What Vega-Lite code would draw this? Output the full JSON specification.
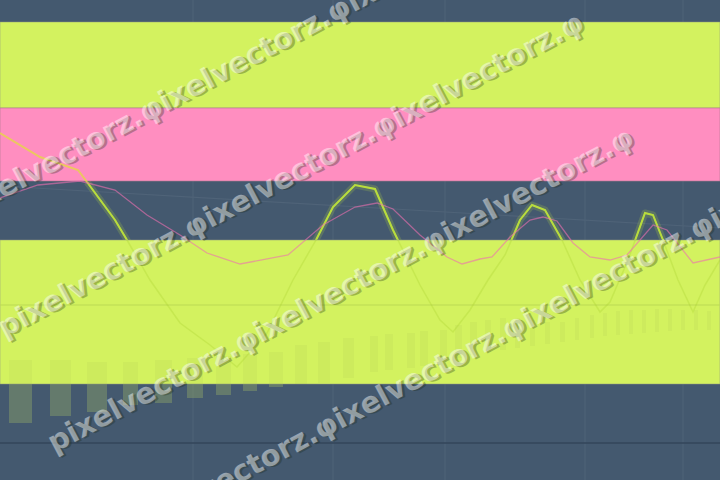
{
  "$schema": "https://vega.github.io/schema/vega-lite/v6.json",
  "width": 720,
  "height": 480,
  "autosize": {"type": "none"},
  "padding": 0,
  "background": "#44596f",
  "config": {"view": {"stroke": null}},
  "datasets": {
    "bands": [
      {"hi": 458, "lo": 372, "kind": "lime"},
      {"hi": 372, "lo": 299, "kind": "pink"},
      {"hi": 240, "lo": 96, "kind": "lime"}
    ],
    "grid": [
      {"t": 193}, {"t": 333}, {"t": 445}, {"t": 585}, {"t": 683}
    ],
    "trend": [
      {"t": 0, "p": 294}, {"t": 720, "p": 252}
    ],
    "levels": [
      {"p": 175, "kind": "mid"},
      {"p": 37, "kind": "base"}
    ],
    "volume": [
      {"t0": 9, "t1": 32, "top": 120, "bot": 57},
      {"t0": 50, "t1": 71, "top": 120, "bot": 64},
      {"t0": 87, "t1": 107, "top": 118, "bot": 68},
      {"t0": 123, "t1": 138, "top": 118, "bot": 75},
      {"t0": 155, "t1": 172, "top": 120, "bot": 77},
      {"t0": 187, "t1": 203, "top": 122, "bot": 82},
      {"t0": 216, "t1": 231, "top": 124, "bot": 85},
      {"t0": 243, "t1": 257, "top": 126, "bot": 89},
      {"t0": 269, "t1": 283, "top": 128, "bot": 93},
      {"t0": 295, "t1": 307, "top": 135, "bot": 96},
      {"t0": 318, "t1": 330, "top": 138, "bot": 97},
      {"t0": 343, "t1": 354, "top": 142, "bot": 102},
      {"t0": 370, "t1": 378, "top": 144, "bot": 108},
      {"t0": 385, "t1": 393, "top": 146, "bot": 110},
      {"t0": 407, "t1": 415, "top": 147, "bot": 112},
      {"t0": 420, "t1": 428, "top": 149, "bot": 114},
      {"t0": 440, "t1": 447, "top": 150, "bot": 118},
      {"t0": 455, "t1": 462, "top": 155, "bot": 122},
      {"t0": 470, "t1": 477, "top": 158, "bot": 125},
      {"t0": 485, "t1": 491, "top": 160, "bot": 128},
      {"t0": 500, "t1": 506, "top": 162, "bot": 130},
      {"t0": 515, "t1": 520, "top": 162, "bot": 132},
      {"t0": 530, "t1": 535, "top": 160, "bot": 134},
      {"t0": 545, "t1": 550, "top": 158, "bot": 136},
      {"t0": 560, "t1": 565, "top": 158, "bot": 138},
      {"t0": 575, "t1": 579, "top": 162, "bot": 140},
      {"t0": 590, "t1": 594, "top": 165, "bot": 142},
      {"t0": 603, "t1": 607, "top": 167, "bot": 144},
      {"t0": 616, "t1": 620, "top": 169, "bot": 145},
      {"t0": 629, "t1": 633, "top": 170, "bot": 146},
      {"t0": 642, "t1": 646, "top": 170, "bot": 147},
      {"t0": 655, "t1": 659, "top": 171, "bot": 148},
      {"t0": 668, "t1": 672, "top": 171, "bot": 149},
      {"t0": 681, "t1": 685, "top": 170, "bot": 150},
      {"t0": 694, "t1": 698, "top": 170, "bot": 150},
      {"t0": 707, "t1": 711, "top": 169, "bot": 150}
    ],
    "price": [
      {"t": 0, "p": 347, "s": "early"},
      {"t": 40, "p": 323, "s": "early"},
      {"t": 78, "p": 310, "s": "early"},
      {"t": 87, "p": 298, "s": "early"},
      {"t": 87, "p": 298, "s": "main"},
      {"t": 115, "p": 260, "s": "main"},
      {"t": 127, "p": 240, "s": "main"},
      {"t": 150, "p": 200, "s": "main"},
      {"t": 180, "p": 157, "s": "main"},
      {"t": 210, "p": 135, "s": "main"},
      {"t": 237, "p": 113, "s": "main"},
      {"t": 267, "p": 147, "s": "main"},
      {"t": 293, "p": 200, "s": "main"},
      {"t": 316, "p": 240, "s": "main"},
      {"t": 333, "p": 273, "s": "main"},
      {"t": 355, "p": 295, "s": "main"},
      {"t": 375, "p": 291, "s": "main"},
      {"t": 393, "p": 250, "s": "main"},
      {"t": 420, "p": 195, "s": "main"},
      {"t": 440, "p": 160, "s": "main"},
      {"t": 453, "p": 148, "s": "main"},
      {"t": 470, "p": 170, "s": "main"},
      {"t": 488, "p": 200, "s": "main"},
      {"t": 505, "p": 225, "s": "main"},
      {"t": 520, "p": 260, "s": "main"},
      {"t": 532, "p": 275, "s": "main"},
      {"t": 545, "p": 270, "s": "main"},
      {"t": 562, "p": 240, "s": "main"},
      {"t": 580, "p": 200, "s": "main"},
      {"t": 600, "p": 168, "s": "main"},
      {"t": 610, "p": 178, "s": "main"},
      {"t": 628, "p": 220, "s": "main"},
      {"t": 645, "p": 267, "s": "main"},
      {"t": 653, "p": 265, "s": "main"},
      {"t": 663, "p": 240, "s": "main"},
      {"t": 678, "p": 200, "s": "main"},
      {"t": 693, "p": 168, "s": "main"},
      {"t": 705, "p": 195, "s": "main"},
      {"t": 720, "p": 220, "s": "main"}
    ],
    "average": [
      {"t": 0, "p": 282}, {"t": 38, "p": 295}, {"t": 80, "p": 299}, {"t": 115, "p": 290},
      {"t": 147, "p": 265}, {"t": 180, "p": 245}, {"t": 207, "p": 227}, {"t": 240, "p": 216},
      {"t": 288, "p": 225}, {"t": 323, "p": 255}, {"t": 355, "p": 273}, {"t": 377, "p": 277},
      {"t": 393, "p": 271}, {"t": 420, "p": 245}, {"t": 447, "p": 223}, {"t": 462, "p": 216},
      {"t": 480, "p": 221}, {"t": 492, "p": 223}, {"t": 510, "p": 243}, {"t": 530, "p": 260},
      {"t": 543, "p": 263}, {"t": 557, "p": 259}, {"t": 573, "p": 237}, {"t": 590, "p": 223},
      {"t": 610, "p": 220}, {"t": 627, "p": 225}, {"t": 653, "p": 255}, {"t": 667, "p": 250},
      {"t": 693, "p": 217}, {"t": 720, "p": 223}
    ],
    "mark": [
      {"t": -45, "p": 266, "label": "pixelvectorz.φixelvectorz.φixelvectorz."},
      {"t": 0, "p": 150, "label": "pixelvectorz.φixelvectorz.φixelvectorz.φ"},
      {"t": 50, "p": 35, "label": "pixelvectorz.φixelvectorz.φixelvectorz.φ"},
      {"t": 130, "p": -51, "label": "pixelvectorz.φixelvectorz.φixelvectorz.φixelvectorz."}
    ]
  },
  "layer": [
    {
      "data": {"name": "grid"},
      "mark": {"type": "rule", "color": "#52667b", "strokeWidth": 1, "opacity": 0.8},
      "encoding": {
        "x": {"field": "t", "type": "quantitative", "scale": {"domain": [0, 720], "nice": false, "zero": false}, "axis": null}
      }
    },
    {
      "data": {"name": "trend"},
      "mark": {"type": "line", "color": "#4f6378", "strokeWidth": 1.2},
      "encoding": {
        "x": {"field": "t", "type": "quantitative", "scale": {"domain": [0, 720], "nice": false, "zero": false}, "axis": null},
        "y": {"field": "p", "type": "quantitative", "scale": {"domain": [0, 480], "nice": false, "zero": false}, "axis": null}
      }
    },
    {
      "data": {"name": "volume"},
      "mark": {"type": "rect", "color": "#a8c070", "opacity": 0.3},
      "encoding": {
        "x": {"field": "t0", "type": "quantitative", "scale": {"domain": [0, 720], "nice": false, "zero": false}, "axis": null},
        "x2": {"field": "t1"},
        "y": {"field": "top", "type": "quantitative", "scale": {"domain": [0, 480], "nice": false, "zero": false}, "axis": null},
        "y2": {"field": "bot"}
      }
    },
    {
      "data": {"name": "price"},
      "transform": [{"filter": "datum.s == 'main'"}],
      "mark": {"type": "line", "color": "#b8dc48", "strokeWidth": 7, "opacity": 0.2, "strokeJoin": "round"},
      "encoding": {
        "x": {"field": "t", "type": "quantitative", "scale": {"domain": [0, 720], "nice": false, "zero": false}, "axis": null},
        "y": {"field": "p", "type": "quantitative", "scale": {"domain": [0, 480], "nice": false, "zero": false}, "axis": null}
      }
    },
    {
      "data": {"name": "price"},
      "transform": [{"filter": "datum.s == 'main'"}],
      "mark": {"type": "line", "strokeWidth": 2, "color": "#bfe243"},
      "encoding": {
        "x": {"field": "t", "type": "quantitative", "scale": {"domain": [0, 720], "nice": false, "zero": false}, "axis": null},
        "y": {"field": "p", "type": "quantitative", "scale": {"domain": [0, 480], "nice": false, "zero": false}, "axis": null}
      }
    },
    {
      "data": {"name": "bands"},
      "transform": [{"filter": "datum.kind == 'lime'"}],
      "mark": {"type": "rect", "color": "#d3f25f", "stroke": "#8f9a80", "strokeWidth": 1, "strokeOpacity": 0.5},
      "encoding": {
        "y": {"field": "hi", "type": "quantitative", "scale": {"domain": [0, 480], "nice": false, "zero": false}, "axis": null},
        "y2": {"field": "lo"}
      }
    },
    {
      "data": {"name": "bands"},
      "transform": [{"filter": "datum.kind == 'pink'"}],
      "mark": {"type": "rect", "color": "#ff8ec0", "stroke": "#b07a90", "strokeWidth": 1, "strokeOpacity": 0.6},
      "encoding": {
        "y": {"field": "hi", "type": "quantitative", "scale": {"domain": [0, 480], "nice": false, "zero": false}, "axis": null},
        "y2": {"field": "lo"}
      }
    },
    {
      "data": {"name": "volume"},
      "mark": {"type": "rect", "color": "#7a9a40", "opacity": 0.07},
      "encoding": {
        "x": {"field": "t0", "type": "quantitative", "scale": {"domain": [0, 720], "nice": false, "zero": false}, "axis": null},
        "x2": {"field": "t1"},
        "y": {"field": "top", "type": "quantitative", "scale": {"domain": [0, 480], "nice": false, "zero": false}, "axis": null},
        "y2": {"field": "bot"}
      }
    },
    {
      "data": {"name": "levels"},
      "transform": [{"filter": "datum.kind == 'mid'"}],
      "mark": {"type": "rule", "strokeWidth": 1.2, "color": "#bcd955"},
      "encoding": {
        "y": {"field": "p", "type": "quantitative", "scale": {"domain": [0, 480], "nice": false, "zero": false}, "axis": null}
      }
    },
    {
      "data": {"name": "levels"},
      "transform": [{"filter": "datum.kind == 'base'"}],
      "mark": {"type": "rule", "strokeWidth": 1.5, "color": "#33465a"},
      "encoding": {
        "y": {"field": "p", "type": "quantitative", "scale": {"domain": [0, 480], "nice": false, "zero": false}, "axis": null}
      }
    },
    {
      "data": {"name": "price"},
      "transform": [{"filter": "datum.s == 'main'"}],
      "mark": {"type": "line", "strokeWidth": 1.5, "color": "#a8d030", "opacity": 0.3},
      "encoding": {
        "x": {"field": "t", "type": "quantitative", "scale": {"domain": [0, 720], "nice": false, "zero": false}, "axis": null},
        "y": {"field": "p", "type": "quantitative", "scale": {"domain": [0, 480], "nice": false, "zero": false}, "axis": null}
      }
    },
    {
      "data": {"name": "average"},
      "mark": {"type": "line", "color": "#ee6fb0", "strokeWidth": 1.3, "opacity": 0.6},
      "encoding": {
        "x": {"field": "t", "type": "quantitative", "scale": {"domain": [0, 720], "nice": false, "zero": false}, "axis": null},
        "y": {"field": "p", "type": "quantitative", "scale": {"domain": [0, 480], "nice": false, "zero": false}, "axis": null}
      }
    },
    {
      "data": {"name": "price"},
      "transform": [{"filter": "datum.s == 'early'"}],
      "mark": {"type": "line", "strokeWidth": 2, "color": "#e8d24e", "opacity": 0.85},
      "encoding": {
        "x": {"field": "t", "type": "quantitative", "scale": {"domain": [0, 720], "nice": false, "zero": false}, "axis": null},
        "y": {"field": "p", "type": "quantitative", "scale": {"domain": [0, 480], "nice": false, "zero": false}, "axis": null}
      }
    },
    {
      "data": {"name": "mark"},
      "mark": {"type": "text", "font": "DejaVu Sans", "fontWeight": "bold", "fontSize": 29, "align": "left", "baseline": "middle", "angle": -28, "color": "#1c2a10", "opacity": 0.3, "dx": 2, "dy": 2},
      "encoding": {
        "x": {"field": "t", "type": "quantitative", "scale": {"domain": [0, 720], "nice": false, "zero": false}, "axis": null},
        "y": {"field": "p", "type": "quantitative", "scale": {"domain": [0, 480], "nice": false, "zero": false}, "axis": null},
        "text": {"field": "label"}
      }
    },
    {
      "data": {"name": "mark"},
      "mark": {"type": "text", "font": "DejaVu Sans", "fontWeight": "bold", "fontSize": 29, "align": "left", "baseline": "middle", "angle": -28, "color": "#ffffff", "opacity": 0.45},
      "encoding": {
        "x": {"field": "t", "type": "quantitative", "scale": {"domain": [0, 720], "nice": false, "zero": false}, "axis": null},
        "y": {"field": "p", "type": "quantitative", "scale": {"domain": [0, 480], "nice": false, "zero": false}, "axis": null},
        "text": {"field": "label"}
      }
    }
  ]
}
